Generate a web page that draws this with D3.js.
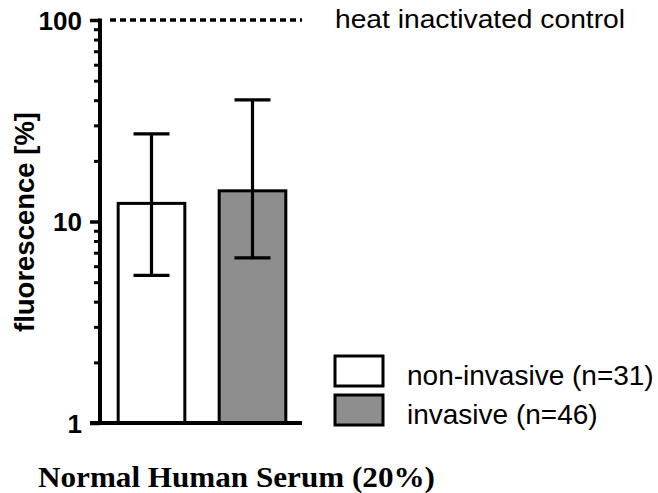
<!DOCTYPE html>
<html>
<head>
<meta charset="utf-8">
<script src="https://cdn.jsdelivr.net/npm/d3@7"></script>
<style>
  body { margin: 0; background: #fff; }
  svg { display: block; }
</style>
</head>
<body>
<script>
// data
const categories = ["non-invasive (n=31)", "invasive (n=46)"];
const means = [12.3, 14.2];
const errLow = [5.4, 6.6];
const errHigh = [27.2, 40.1];
const controlValue = 100;
const controlLabel = "heat inactivated control";
const majorTicks = [1, 10, 100];
const minorTicks = [2, 3, 4, 5, 6, 7, 8, 9, 20, 30, 40, 50, 60, 70, 80, 90];

const fills = ["#ffffff", "#8e8e8e"];
const SANS = "'Liberation Sans', Arial, sans-serif";
const SERIF = "'Liberation Serif', 'Times New Roman', serif";

const W = 658, H = 493;
const AXIS_X = 100, Y_TOP = 20, Y_BOT = 423, X_END = 302;

const svg = d3.select("body").append("svg")
    .attr("width", W)
    .attr("height", H);

// scales
var yScale = d3.scaleLog().domain([1, 100]).range([Y_BOT, Y_TOP]);
var xScale = d3.scaleBand().domain(categories).range([AXIS_X, 304])
    .paddingInner(0.34).paddingOuter(0.18);

// bars
svg.selectAll(".bar")
    .data(categories)
    .enter()
    .append("rect")
    .attr("class", "bar")
    .attr("x", function(d) { return xScale(d); })
    .attr("width", xScale.bandwidth())
    .attr("y", function(d, i) { return yScale(means[i]); })
    .attr("height", function(d, i) { return yScale(1) - yScale(means[i]); })
    .style("fill", function(d, i) { return fills[i]; })
    .style("stroke", "#000")
    .style("stroke-width", 3);

// error bars
const CAP = 18;
categories.forEach(function(d, i) {
    var cx = xScale(d) + xScale.bandwidth() / 2;
    var g = svg.append("g")
        .style("stroke", "#000")
        .style("stroke-width", 3.2);
    g.append("line")
        .attr("x1", cx).attr("x2", cx)
        .attr("y1", yScale(errHigh[i])).attr("y2", yScale(errLow[i]));
    [errHigh[i], errLow[i]].forEach(function(v) {
        g.append("line")
            .attr("x1", cx - CAP).attr("x2", cx + CAP)
            .attr("y1", yScale(v)).attr("y2", yScale(v));
    });
});

// control dashed line
svg.append("line")
    .attr("x1", AXIS_X + 10)
    .attr("x2", X_END)
    .attr("y1", yScale(controlValue))
    .attr("y2", yScale(controlValue))
    .style("stroke", "#000")
    .style("stroke-width", 3.5)
    .style("stroke-dasharray", "6,4");

svg.append("text")
    .attr("x", 335)
    .attr("y", 28)
    .attr("textLength", 290)
    .attr("lengthAdjust", "spacingAndGlyphs")
    .style("font-family", SANS)
    .style("font-size", "26px")
    .text(controlLabel);

// y axis: major ticks with labels
var yAxis = d3.axisLeft(yScale)
    .tickValues(majorTicks)
    .tickFormat(d3.format("d"))
    .tickSize(10)
    .tickPadding(8);

var y = svg.append("g")
    .attr("transform", "translate(" + AXIS_X + ",0)")
    .call(yAxis);
y.select(".domain").remove();
y.selectAll(".tick line").style("stroke", "#000").style("stroke-width", 3.5);
y.selectAll(".tick text")
    .style("font-family", SANS)
    .style("font-weight", "bold")
    .style("font-size", "26px")
    .attr("dy", "0.36em")
    .style("fill", "#000");

// minor ticks
var yMinor = d3.axisLeft(yScale)
    .tickValues(minorTicks)
    .tickFormat("")
    .tickSize(6);
var ym = svg.append("g")
    .attr("transform", "translate(" + AXIS_X + ",0)")
    .call(yMinor);
ym.select(".domain").remove();
ym.selectAll(".tick line").style("stroke", "#000").style("stroke-width", 3);

// axis lines
svg.append("line")
    .attr("x1", AXIS_X).attr("x2", AXIS_X)
    .attr("y1", Y_TOP - 1.5).attr("y2", Y_BOT)
    .style("stroke", "#000").style("stroke-width", 4);
svg.append("line")
    .attr("x1", AXIS_X - 10).attr("x2", X_END)
    .attr("y1", Y_BOT).attr("y2", Y_BOT)
    .style("stroke", "#000").style("stroke-width", 4);

// y axis title
svg.append("text")
    .attr("transform", "translate(34," + ((Y_TOP + Y_BOT) / 2 + 0.5) + ")rotate(-90)")
    .attr("text-anchor", "middle")
    .attr("textLength", 220)
    .attr("lengthAdjust", "spacingAndGlyphs")
    .style("font-family", SANS)
    .style("font-weight", "bold")
    .style("font-size", "28px")
    .text("fluorescence [%]");

// x title
svg.append("text")
    .attr("x", 38)
    .attr("y", 487)
    .attr("textLength", 397)
    .attr("lengthAdjust", "spacingAndGlyphs")
    .style("font-family", SERIF)
    .style("font-weight", "bold")
    .style("font-size", "30px")
    .text("Normal Human Serum (20%)");

// legend
var legendY = [356, 395];
var legend = svg.selectAll(".legend")
    .data(categories)
    .enter()
    .append("g")
    .attr("class", "legend");
legend.append("rect")
    .attr("x", 335)
    .attr("y", function(d, i) { return legendY[i]; })
    .attr("width", 48)
    .attr("height", 30)
    .style("fill", function(d, i) { return fills[i]; })
    .style("stroke", "#000")
    .style("stroke-width", 3);
legend.append("text")
    .attr("x", 407)
    .attr("y", function(d, i) { return legendY[i] + 29; })
    .style("font-family", SANS)
    .style("font-size", "28px")
    .text(function(d) { return d; });
</script>
</body>
</html>
